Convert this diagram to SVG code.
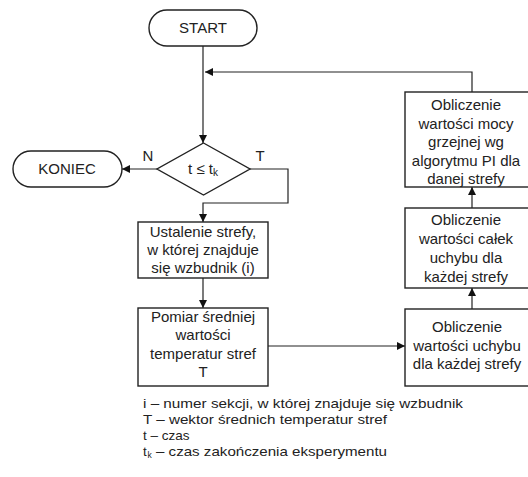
<svg xmlns="http://www.w3.org/2000/svg" width="528" height="477" viewBox="0 0 528 477">
<defs>
<marker id="ah" viewBox="0 0 10 10" refX="10" refY="5" markerWidth="8" markerHeight="8" markerUnits="userSpaceOnUse" orient="auto">
<path d="M0,0 L10,5 L0,10 z" fill="#111"/>
</marker>
</defs>
<style>
.box{fill:#fff;stroke:#222;stroke-width:1.4}
.t{font-family:"Liberation Sans",Arial,sans-serif;font-size:15px;fill:#222;text-anchor:middle}
.lg{font-family:"Liberation Sans",Arial,sans-serif;font-size:13.5px;fill:#222}
.sub{font-size:8.5px}
.c{fill:none;stroke:#222;stroke-width:1.2}
</style>
<rect width="528" height="477" fill="#fff"/>
<g id="connectors">
<path class="c" d="M203,46 V143" marker-end="url(#ah)"/>
<path class="c" d="M472,92 V72 H205" marker-end="url(#ah)"/>
<path class="c" d="M157,169 H122" marker-end="url(#ah)"/>
<path class="c" d="M250,169 H288 V203 H203 V222" marker-end="url(#ah)"/>
<path class="c" d="M203,278 V308" marker-end="url(#ah)"/>
<path class="c" d="M268,346 H405" marker-end="url(#ah)"/>
<path class="c" d="M472,309 V288" marker-end="url(#ah)"/>
<path class="c" d="M472,208 V187" marker-end="url(#ah)"/>
</g>
<g id="start">
<rect class="box" x="149" y="10" width="108" height="36" rx="18"/>
<text class="t" x="203" y="33">START</text>
</g>
<g id="koniec">
<rect class="box" x="13" y="151" width="109" height="36" rx="18"/>
<text class="t" x="67" y="174">KONIEC</text>
</g>
<g id="decision">
<path class="box" d="M203.5,143 L250,169 L203.5,195 L157,169 z"/>
<text class="t" x="203" y="174">t ≤ t<tspan style="font-size:10px" dy="2">k</tspan></text>
<text class="t" x="148" y="161">N</text>
<text class="t" x="260" y="161">T</text>
</g>
<g id="ustalenie">
<rect class="box" x="138" y="222" width="130" height="56"/>
<text class="t" x="203" y="237">Ustalenie strefy,</text>
<text class="t" x="203" y="255">w której znajduje</text>
<text class="t" x="203" y="273">się wzbudnik (i)</text>
</g>
<g id="pomiar">
<rect class="box" x="138" y="308" width="130" height="78"/>
<text class="t" x="203" y="322">Pomiar średniej</text>
<text class="t" x="203" y="340">wartości</text>
<text class="t" x="203" y="359">temperatur stref</text>
<text class="t" x="203" y="377">T</text>
</g>
<g id="uchyb">
<rect class="box" x="405" y="309" width="126" height="77"/>
<text class="t" x="467" y="332">Obliczenie</text>
<text class="t" x="467" y="351">wartości uchybu</text>
<text class="t" x="467" y="369">dla każdej strefy</text>
</g>
<g id="calki">
<rect class="box" x="405" y="208" width="126" height="80"/>
<text class="t" x="466" y="225">Obliczenie</text>
<text class="t" x="466" y="244">wartości całek</text>
<text class="t" x="466" y="263">uchybu dla</text>
<text class="t" x="466" y="282">każdej strefy</text>
</g>
<g id="moc">
<rect class="box" x="405" y="92" width="126" height="95"/>
<text class="t" x="466" y="110">Obliczenie</text>
<text class="t" x="466" y="129">wartości mocy</text>
<text class="t" x="466" y="147">grzejnej wg</text>
<text class="t" x="466" y="166">algorytmu PI dla</text>
<text class="t" x="466" y="184">danej strefy</text>
</g>
<g id="legend">
<text class="lg" x="143" y="408" textLength="320" lengthAdjust="spacingAndGlyphs">i – numer sekcji, w której znajduje się wzbudnik</text>
<text class="lg" x="143" y="424" textLength="244" lengthAdjust="spacingAndGlyphs">T – wektor średnich temperatur stref</text>
<text class="lg" x="143" y="440">t – czas</text>
<text class="lg" x="143" y="456">t</text>
<text class="lg sub" x="147.5" y="458">k</text>
<text class="lg" x="156" y="456" textLength="231" lengthAdjust="spacingAndGlyphs">– czas zakończenia eksperymentu</text>
</g>
</svg>
